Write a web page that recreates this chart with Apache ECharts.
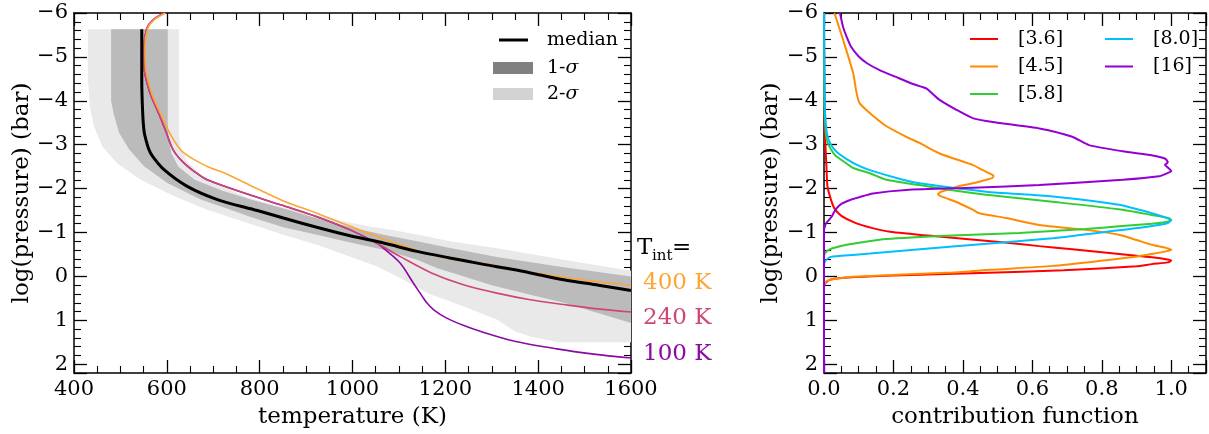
<!DOCTYPE html>
<html>
<head>
<meta charset="utf-8">
<script src="https://cdn.jsdelivr.net/npm/echarts@6/dist/echarts.min.js"></script>
<style>
  html, body { margin: 0; padding: 0; background: #fff; }
  #chart { width: 1209px; height: 434px; }
</style>
</head>
<body>
<div id="chart"></div>
<script>
// ---- left panel: temperature profiles (T in K, log p in bar) ----
const medianP = [-5.63, -5.0, -4.48, -3.72, -3.3, -3.11, -2.9, -2.74, -2.43, -2.05, -1.75, -1.5, -1.33, -1.12, -0.925, -0.76, -0.57, -0.42, -0.28, -0.15, -0.04, 0.075, 0.2, 0.32];
const medianT = [546, 546, 546, 548, 551, 555, 561, 569, 594, 644, 709, 795, 851, 923, 995, 1067, 1139, 1210, 1280, 1350, 1401, 1455, 1530, 1600];

const t400P = [-6.0, -5.84, -5.65, -5.24, -4.78, -4.18, -3.65, -3.27, -2.96, -2.8, -2.66, -2.5, -2.36, -2.02, -1.72, -1.44, -1.14, -0.85, -0.59, -0.40, -0.28, -0.1, 0.07, 0.2];
const t400T = [597, 572, 559, 553, 554, 567, 589, 606, 624, 638, 659, 688, 723, 790, 851, 923, 995, 1067, 1139, 1210, 1290, 1380, 1490, 1600];

const t240P = [-6.0, -5.84, -5.65, -5.24, -4.78, -4.2, -3.7, -3.3, -2.96, -2.78, -2.58, -2.4, -2.2, -1.87, -1.63, -1.36, -1.06, -0.76, -0.45, -0.08, 0.19, 0.38, 0.53, 0.64, 0.74, 0.81];
const t240T = [594, 570, 557, 551, 551, 563, 583, 598, 610, 620, 637, 658, 687, 775, 845, 923, 995, 1052, 1103, 1170, 1239, 1311, 1383, 1455, 1527, 1600];

const t100P = [-6.0, -5.84, -5.65, -5.24, -4.78, -4.2, -3.7, -3.3, -2.96, -2.78, -2.58, -2.4, -2.2, -1.87, -1.63, -1.36, -1.06, -0.76, -0.64, -0.30, 0.15, 0.45, 0.6, 0.76, 0.95, 1.12, 1.25, 1.47, 1.65, 1.77, 1.86];
const t100T = [594, 570, 557, 551, 551, 563, 583, 598, 610, 620, 637, 658, 687, 775, 845, 923, 995, 1052, 1067, 1103, 1131, 1150, 1160, 1175, 1203, 1240, 1275, 1347, 1440, 1520, 1600];

// 2-sigma band edges
const sig2LowP = [-5.63, -4.5, -3.87, -3.42, -2.96, -2.58, -2.2, -1.83, -1.52, -1.2, -0.95, -0.72, -0.45, -0.23, 0.075, 0.4, 0.55, 0.75, 0.98, 1.25, 1.37, 1.5, 1.5];
const sig2LowT = [430, 430, 434, 443, 461, 493, 544, 615, 687, 779, 851, 923, 995, 1052, 1110, 1165, 1205, 1255, 1311, 1350, 1383, 1443, 1600];
const sig2HighP = [-5.63, -3.2, -2.9, -2.6, -2.3, -2.0, -1.8, -1.6, -1.45, -1.3, -1.15, -1.05, -0.93, -0.8, -0.64, -0.5, -0.38, -0.25, -0.13];
const sig2HighT = [626, 626, 630, 645, 675, 728, 775, 840, 900, 960, 1030, 1090, 1150, 1210, 1311, 1390, 1455, 1530, 1600];

// 1-sigma band edges
const sig1LowP = [-5.63, -4.0, -3.72, -3.27, -2.89, -2.51, -2.13, -1.75, -1.49, -1.36, -1.12, -0.95, -0.77, -0.61, -0.38, -0.2, 0.0, 0.2, 0.42, 0.6, 0.83, 1.06];
const sig1LowT = [480, 480, 485, 497, 519, 551, 601, 673, 745, 779, 851, 923, 995, 1067, 1139, 1180, 1240, 1300, 1383, 1455, 1527, 1600];
const sig1HighP = [-5.63, -3.5, -3.1, -2.8, -2.5, -2.2, -1.95, -1.76, -1.55, -1.3, -1.12, -0.95, -0.8, -0.66, -0.44, -0.21, 0.0];
const sig1HighT = [602, 602, 604, 610, 625, 660, 720, 779, 850, 930, 995, 1067, 1139, 1205, 1311, 1455, 1600];

// ---- right panel: contribution functions ----
const cf36P = [-6, -3.5, -3.0, -2.5, -2.05, -1.75, -1.55, -1.38, -1.22, -1.1, -1.02, -0.91, -0.77, -0.69, -0.62, -0.47, -0.43, -0.39, -0.36, -0.32, -0.28, -0.23, -0.14, -0.08, -0.02, 0.02, 0.07, 0.15, 0.25, 2.2];
const cf36V = [0, 0.002, 0.004, 0.007, 0.01, 0.02, 0.03, 0.05, 0.09, 0.14, 0.19, 0.33, 0.52, 0.62, 0.715, 0.9, 0.95, 0.985, 1.0, 0.99, 0.944, 0.9, 0.69, 0.45, 0.2, 0.08, 0.02, 0.004, 0, 0];

const cf45P = [-6, -5.39, -4.63, -4.17, -3.94, -3.7, -3.42, -3.18, -3.04, -2.8, -2.54, -2.43, -2.34, -2.29, -2.24, -2.18, -2.12, -2.06, -1.98, -1.92, -1.87, -1.8, -1.7, -1.52, -1.44, -1.33, -1.17, -1.06, -0.95, -0.83, -0.72, -0.65, -0.61, -0.57, -0.52, -0.45, -0.35, -0.24, -0.15, -0.09, 0.01, 0.06, 0.1, 0.15, 0.22, 2.2];
const cf45V = [0.03, 0.055, 0.084, 0.094, 0.103, 0.135, 0.18, 0.237, 0.275, 0.333, 0.428, 0.455, 0.478, 0.488, 0.484, 0.457, 0.428, 0.39, 0.36, 0.335, 0.328, 0.345, 0.38, 0.428, 0.447, 0.524, 0.62, 0.753, 0.849, 0.9, 0.944, 0.985, 1.0, 0.985, 0.95, 0.897, 0.79, 0.658, 0.48, 0.37, 0.084, 0.03, 0.008, 0.003, 0, 0];

const cf58P = [-6, -4, -3.5, -3.11, -2.95, -2.81, -2.73, -2.6, -2.47, -2.35, -2.2, -2.08, -1.95, -1.86, -1.7, -1.53, -1.4, -1.33, -1.28, -1.24, -1.2, -1.14, -1.08, -0.99, -0.93, -0.85, -0.78, -0.72, -0.62, -0.53, -0.45, 2.2];
const cf58V = [0, 0.001, 0.003, 0.008, 0.016, 0.027, 0.036, 0.06, 0.084, 0.132, 0.18, 0.275, 0.38, 0.467, 0.658, 0.849, 0.944, 0.992, 1.0, 0.985, 0.944, 0.85, 0.753, 0.562, 0.37, 0.18, 0.11, 0.065, 0.017, 0.003, 0, 0];

const cf80P = [-6, -4, -3.5, -3.2, -3.0, -2.84, -2.65, -2.51, -2.42, -2.2, -2.12, -1.93, -1.82, -1.63, -1.44, -1.35, -1.29, -1.24, -1.2, -1.12, -1.05, -0.87, -0.68, -0.52, -0.47, -0.44, -0.34, -0.25, 2.2];
const cf80V = [0, 0.002, 0.005, 0.01, 0.02, 0.036, 0.07, 0.103, 0.132, 0.227, 0.275, 0.467, 0.658, 0.849, 0.944, 0.98, 0.997, 0.995, 0.983, 0.92, 0.849, 0.658, 0.37, 0.132, 0.05, 0.017, 0.003, 0, 0];

const cf16P = [-6, -5.68, -5.46, -5.23, -5.01, -4.85, -4.7, -4.55, -4.4, -4.28, -4.18, -4.02, -3.8, -3.6, -3.5, -3.37, -3.18, -2.99, -2.85, -2.75, -2.68, -2.6, -2.54, -2.48, -2.4, -2.34, -2.28, -2.2, -2.08, -2.02, -1.97, -1.89, -1.8, -1.74, -1.65, -1.55, -1.45, -1.36, -1.21, -1.1, -1.06, 2.2];
const cf16V = [0.046, 0.055, 0.065, 0.078, 0.1, 0.125, 0.16, 0.205, 0.25, 0.295, 0.31, 0.333, 0.38, 0.43, 0.5, 0.62, 0.715, 0.763, 0.86, 0.95, 0.983, 0.99, 0.982, 0.99, 1.0, 0.985, 0.965, 0.86, 0.62, 0.428, 0.237, 0.141, 0.1, 0.075, 0.05, 0.036, 0.028, 0.022, 0.006, 0.001, 0, 0];

const tempTicks = { min: 400, max: 1600, interval: 200 };
const cfTicks = { min: 0, max: 1.1, interval: 0.2 };
const presTicks = { min: -6, max: 2.2, interval: 1 };

const FONT = 'DejaVu Serif';
const C400 = '#fca636', C240 = '#cc4778', C100 = '#8b0aa5';

const zip = (xs, ys) => xs.map((x, i) => [x, ys[i]]);

function pLabel(v) {
  if (Math.abs(v - Math.round(v)) > 1e-9) return '';
  return v < 0 ? '\u2212' + (-v) : String(v);
}
function cfLabel(v) {
  const k = Math.round(v * 5);
  return Math.abs(v * 5 - k) < 1e-6 ? v.toFixed(1) : '';
}

function axis(extra) {
  return Object.assign({
    type: 'value',
    axisLine: { show: true, onZero: false, lineStyle: { color: '#000', width: 1.5 } },
    axisTick: { show: true, inside: true, length: 13, lineStyle: { color: '#000', width: 1.3 } },
    splitLine: { show: false },
    axisLabel: { show: false },
    nameTextStyle: { fontFamily: FONT, fontSize: 23, color: '#000' }
  }, extra);
}
const minor = (n) => ({ show: true, splitNumber: n, length: 7, lineStyle: { color: '#000', width: 1.1 } });
const lbl = (fmt) => ({ show: true, fontFamily: FONT, fontSize: 21, color: '#000', margin: 6, formatter: fmt });

function band(poly, color, z) {
  return {
    type: 'custom', xAxisIndex: 0, yAxisIndex: 0, clip: true, silent: true, z: z,
    data: poly, encode: { x: 0, y: 1 },
    itemStyle: { color: color },
    renderItem: (params, api) => params.dataIndex !== 0 ? null : {
      type: 'polygon',
      shape: { points: poly.map(d => api.coord(d)) },
      style: { fill: color }
    }
  };
}
function line(name, data, color, width, xi, z, smooth) {
  return {
    name: name, type: 'line', data: data, xAxisIndex: xi, yAxisIndex: xi,
    showSymbol: false, symbol: 'none', smooth: smooth, silent: true, z: z,
    lineStyle: { color: color, width: width }, itemStyle: { color: color }
  };
}

const sig2Poly = zip(sig2LowT, sig2LowP).concat(zip(sig2HighT, sig2HighP).reverse());
const sig1Poly = zip(sig1LowT, sig1LowP).concat(zip(sig1HighT, sig1HighP).reverse());

const legendText = { fontFamily: FONT, fontSize: 19, color: '#000', lineHeight: 20,
  rich: { i: { fontFamily: FONT, fontSize: 19, fontStyle: 'italic', color: '#000' } } };
const sigFmt = (name) => name.replace('σ', '{i|σ}');
const thin = 'path://M0,0H28V2H0Z';

const option = {
  animation: false,
  backgroundColor: '#fff',
  grid: [
    { left: 74, top: 13, width: 557, height: 360 },
    { left: 824, top: 13, width: 383, height: 360 }
  ],
  xAxis: [
    axis(Object.assign({ gridIndex: 0, position: 'bottom', name: 'temperature (K)', nameLocation: 'middle', nameGap: 33,
      minorTick: minor(4), axisLabel: lbl(v => String(v)) }, tempTicks)),
    axis(Object.assign({ gridIndex: 0, position: 'top', minorTick: minor(4) }, tempTicks)),
    axis(Object.assign({ gridIndex: 1, position: 'bottom', name: 'contribution function', nameLocation: 'middle', nameGap: 33,
      minorTick: minor(4), axisLabel: lbl(cfLabel) }, cfTicks)),
    axis(Object.assign({ gridIndex: 1, position: 'top', minorTick: minor(4) }, cfTicks))
  ],
  yAxis: [
    axis(Object.assign({ gridIndex: 0, position: 'left', inverse: true, name: 'log(pressure) (bar)', nameLocation: 'middle', nameGap: 40,
      minorTick: minor(5), axisLabel: lbl(pLabel) }, presTicks)),
    axis(Object.assign({ gridIndex: 0, position: 'right', inverse: true, minorTick: minor(5) }, presTicks)),
    axis(Object.assign({ gridIndex: 1, position: 'left', inverse: true, name: 'log(pressure) (bar)', nameLocation: 'middle', nameGap: 41,
      minorTick: minor(5), axisLabel: lbl(pLabel) }, presTicks)),
    axis(Object.assign({ gridIndex: 1, position: 'right', inverse: true, minorTick: minor(5) }, presTicks))
  ],
  legend: [
    { left: 494, top: 25, orient: 'vertical', selectedMode: false, itemWidth: 29, itemHeight: 12,
      itemStyle: { borderWidth: 0 }, textStyle: Object.assign({ padding: [0, 0, 0, 14] }, legendText),
      data: [{ name: 'median', icon: 'path://M0,0H29V3H0Z', itemStyle: { color: '#000' } }] },
    { left: 488, top: 53, orient: 'vertical', selectedMode: false, itemWidth: 40, itemHeight: 12, itemGap: 6,
      itemStyle: { borderWidth: 0 }, textStyle: Object.assign({ padding: [0, 0, 0, 9] }, legendText), formatter: sigFmt,
      data: [{ name: '1-σ', icon: 'rect', itemStyle: { color: '#808080' } },
             { name: '2-σ', icon: 'rect', itemStyle: { color: '#d3d3d3' } }] },
    { left: 965, top: 24, orient: 'vertical', selectedMode: false, itemWidth: 28, itemHeight: 12, itemGap: 7.5,
      itemStyle: { borderWidth: 0 }, textStyle: Object.assign({ padding: [0, 0, 0, 15] }, legendText),
      data: [{ name: '[3.6]', icon: thin, itemStyle: { color: '#ff0000' } },
             { name: '[4.5]', icon: thin, itemStyle: { color: '#ff8c00' } },
             { name: '[5.8]', icon: thin, itemStyle: { color: '#32cd32' } }] },
    { left: 1100, top: 24, orient: 'vertical', selectedMode: false, itemWidth: 28, itemHeight: 12, itemGap: 7.5,
      itemStyle: { borderWidth: 0 }, textStyle: Object.assign({ padding: [0, 0, 0, 15] }, legendText),
      data: [{ name: '[8.0]', icon: thin, itemStyle: { color: '#00bfff' } },
             { name: '[16]', icon: thin, itemStyle: { color: '#9400d3' } }] }
  ],
  graphic: [
    { type: 'text', x: 637, y: 248, style: { text: 'T', font: '23px "DejaVu Serif"', fill: '#000', verticalAlign: 'middle' } },
    { type: 'text', x: 652, y: 256, style: { text: 'int', font: '15px "DejaVu Serif"', fill: '#000', verticalAlign: 'middle' } },
    { type: 'text', x: 672, y: 248, style: { text: '=', font: '23px "DejaVu Serif"', fill: '#000', verticalAlign: 'middle' } },
    { type: 'text', x: 643, y: 283, style: { text: '400 K', font: '23px "DejaVu Serif"', fill: C400, verticalAlign: 'middle' } },
    { type: 'text', x: 643, y: 318, style: { text: '240 K', font: '23px "DejaVu Serif"', fill: C240, verticalAlign: 'middle' } },
    { type: 'text', x: 643, y: 354, style: { text: '100 K', font: '23px "DejaVu Serif"', fill: C100, verticalAlign: 'middle' } }
  ],
  series: [
    Object.assign(band(sig2Poly, '#e9e9e9', 1), { name: '2-σ' }),
    Object.assign(band(sig1Poly, '#bbbbbb', 2), { name: '1-σ' }),
    line('100 K', zip(t100T, t100P), C100, 1.6, 0, 3, 0.3),
    line('240 K', zip(t240T, t240P), C240, 1.6, 0, 4, 0.3),
    line('400 K', zip(t400T, t400P), C400, 1.6, 0, 5, 0.3),
    line('median', zip(medianT, medianP), '#000', 3, 0, 6, 0.3),
    line('[3.6]', zip(cf36V, cf36P), '#ff0000', 2, 2, 3, 0.2),
    line('[4.5]', zip(cf45V, cf45P), '#ff8c00', 2, 2, 3, 0.2),
    line('[5.8]', zip(cf58V, cf58P), '#32cd32', 2, 2, 3, 0.2),
    line('[8.0]', zip(cf80V, cf80P), '#00bfff', 2, 2, 3, 0.2),
    line('[16]', zip(cf16V, cf16P), '#9400d3', 2, 2, 3, 0.2)
  ]
};

const chart = echarts.init(document.getElementById('chart'));
chart.setOption(option);
</script>
</body>
</html>
